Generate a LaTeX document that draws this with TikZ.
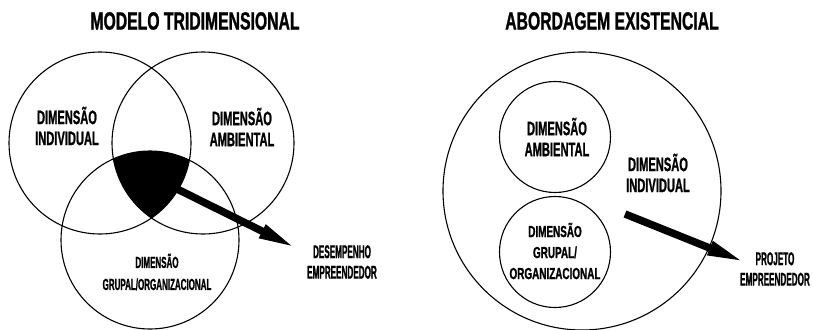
\documentclass[tikz,border=0pt]{standalone}
\usepackage{fontspec}
\newfontfamily\titlefont{Liberation Sans}[FakeStretch=0.63,FakeBold=1]
\newfontfamily\dimfont{Liberation Sans}[FakeStretch=0.57,FakeBold=1]
\newfontfamily\grpfont{Liberation Sans}[FakeStretch=0.50,FakeBold=1]
\newfontfamily\orgfont{Liberation Sans}[FakeStretch=0.62,FakeBold=1]
\newfontfamily\outfont{Liberation Sans}[FakeStretch=0.44,FakeBold=1]
\usetikzlibrary{positioning,arrows.meta}
\tikzset{
  ring/.style={circle, draw, line width=1.1pt, inner sep=0pt},
  titletext/.style={inner sep=0pt, font=\titlefont\bfseries\fontsize{25}{28}\selectfont},
  dimtext/.style={inner sep=0pt, align=center, font=\dimfont\bfseries\fontsize{19.5}{21}\selectfont},
  grptext/.style={inner sep=0pt, align=center, font=\grpfont\bfseries\fontsize{16}{22}\selectfont},
  smallgrp/.style={inner sep=0pt, align=center, font=\orgfont\bfseries\fontsize{16}{21}\selectfont},
  outtext/.style={inner sep=0pt, align=center, font=\outfont\bfseries\fontsize{18.5}{20.5}\selectfont},
  bigarrow/.style={line width=7.5pt, -{Triangle[length=40pt,width=13pt]}},
}
\begin{document}
\begin{tikzpicture}[x=1pt, y=-1pt]
  \useasboundingbox (0,0) rectangle (813,329);

  % modelo tridimensional
  \node[titletext] (title1) at (195,21) {MODELO TRIDIMENSIONAL};
  \node[ring, minimum size=182pt] (ind) at (100,143) {};
  \node[ring, minimum size=182pt] (amb) at (203,143) {};
  \node[ring, minimum size=178pt] (grp) at (150,240) {};
  \begin{scope}
    \clip (ind.center) circle[radius=91];
    \clip (amb.center) circle[radius=91];
    \fill (grp.center) circle[radius=89];
  \end{scope}
  \node[dimtext] (indlab) at (67,126) {DIMENSÃO\\INDIVIDUAL};
  \node[dimtext] (amblab) at (242,127) {DIMENSÃO\\AMBIENTAL};
  \node[grptext] (grplab) at (157,272) {DIMENSÃO\\GRUPAL/ORGANIZACIONAL};
  \node[outtext] (desemp) at (342,262) {DESEMPENHO\\EMPREENDEDOR};
  \coordinate (core) at (165,183);
  \coordinate (tipA) at (298,249);
  \draw[bigarrow] (core) -- (tipA);

  % abordagem existencial
  \node[titletext] (title2) at (612,21) {ABORDAGEM EXISTENCIAL};
  \node[ring, minimum size=278pt] (whole) at (582,191) {};
  \node[ring, minimum size=111pt] (env) at (555,137) {};
  \node[ring, minimum size=111pt] (org) at (555,252) {};
  \node[dimtext] (envlab) at (557,137) {DIMENSÃO\\AMBIENTAL};
  \node[dimtext] (selflab) at (658,173) {DIMENSÃO\\INDIVIDUAL};
  \node[smallgrp] (orglab) at (555,251) {DIMENSÃO\\GRUPAL/\\ORGANIZACIONAL};
  \node[outtext] (projeto) at (775,269) {PROJETO\\EMPREENDEDOR};
  \coordinate (start) at (625,214);
  \coordinate (tipB) at (747,263);
  \draw[bigarrow] (start) -- (tipB);
\end{tikzpicture}
\end{document}
